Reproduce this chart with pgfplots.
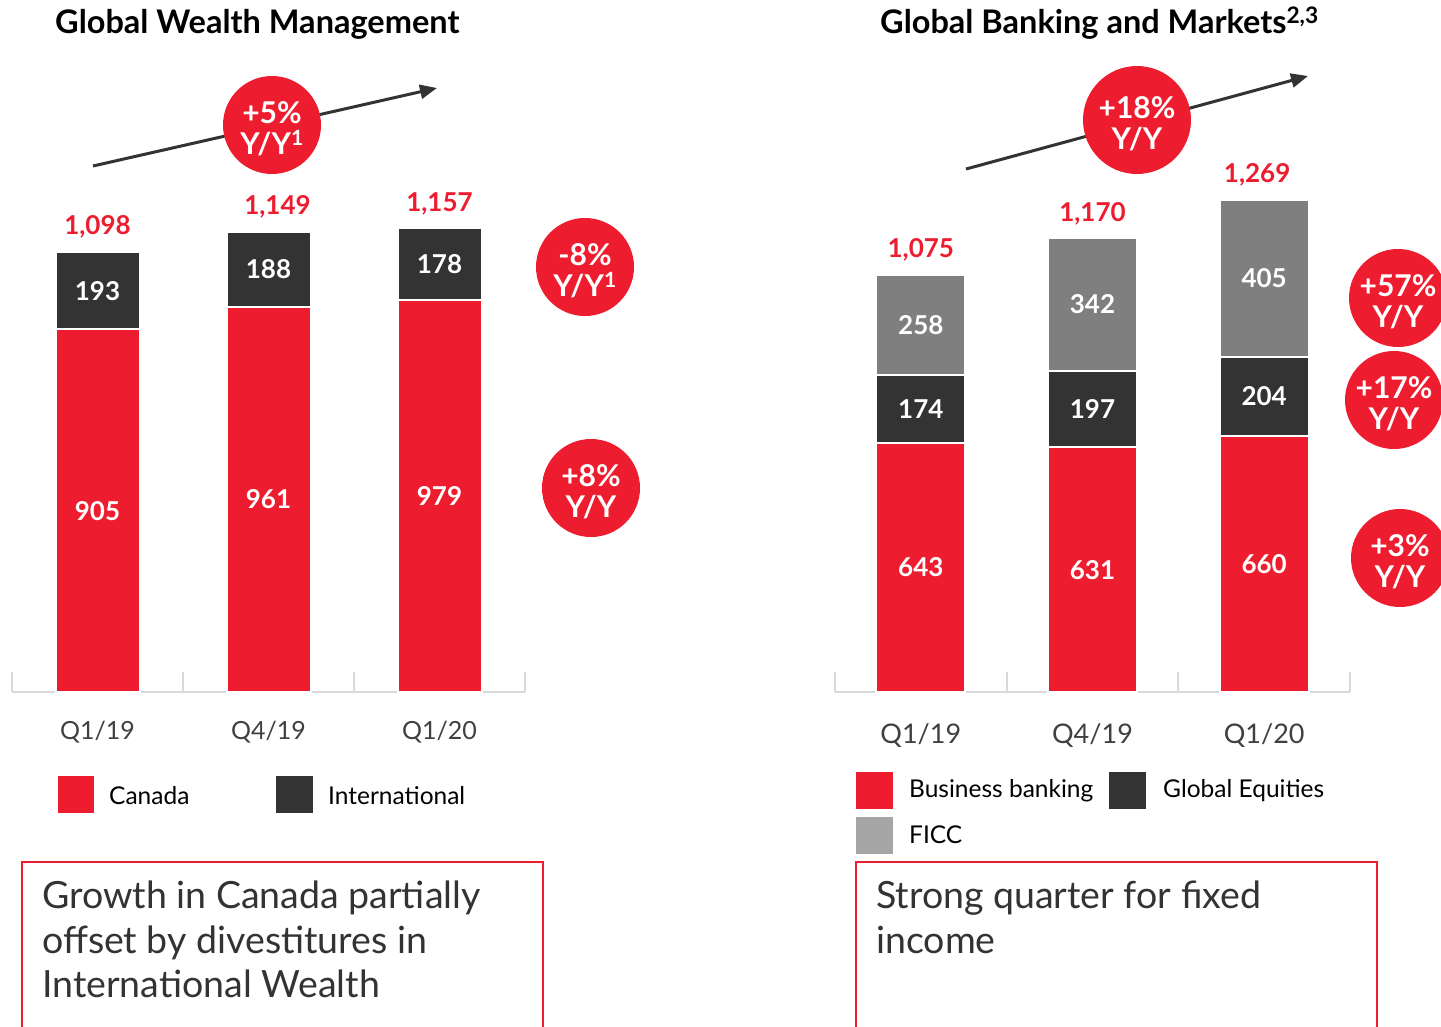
\documentclass[border=0pt]{standalone}
\usepackage{fontspec}
\setmainfont{Lato}
\usepackage{pgfplots}
\usepackage{pgfplotstable}
\pgfplotsset{compat=1.18}
\usetikzlibrary{arrows.meta}

\definecolor{sred}{HTML}{ED1C2E}
\definecolor{sdark}{HTML}{333333}
\definecolor{sgray}{HTML}{7F7F7F}
\definecolor{slgray}{HTML}{A6A6A6}
\definecolor{axgray}{HTML}{D9D9D9}
\definecolor{txtgray}{HTML}{404040}

\pgfplotstableread{
x canada intl
0 905 193
1 961 188
2 979 178
}\gwm

\pgfplotstableread{
x bb eq ficc
0 643 174 258
1 631 197 342
2 660 204 405
}\gbm

\newcommand{\fs}[1]{\fontsize{#1}{#1}\selectfont}

\pgfplotsset{
  mybars/.style={
    ybar stacked, scale only axis, ymin=0, xmin=-0.5, xmax=2.5,
    hide y axis, axis x line*=bottom,
    x axis line style={axgray, line width=2pt},
    xtick={0,1,2}, xticklabels={Q1/19,Q4/19,Q1/20},
    major tick length=0pt,
    xticklabel style={anchor=base, text=txtgray},
    extra x ticks={-0.5,0.5,1.5,2.5}, extra x tick labels={},
    extra x tick style={major tick length=20pt, tick style={axgray, line width=2pt}},
    clip=false,
  },
  lab/.style={scale only axis, hide axis, ymin=0, xmin=-0.5, xmax=2.5, clip=false},
  seg/.style={draw=white, line width=2pt},
}
\tikzset{inlab/.style={text=white, font=\bfseries\fs{26}},
  totl/.style={anchor=base, yshift=17pt, inner sep=0pt, text=sred, font=\bfseries\fs{26}}}

\newcommand{\bub}[4]{%
  \fill[sred] (#1pt,-#2pt) circle (#3pt);
  \node[text=white, align=center, inner sep=0pt, font=\bfseries\fs{30}] at (#1pt,-#2pt-4pt) {#4};}

\begin{document}
\begin{tikzpicture}
\useasboundingbox (0pt,0pt) rectangle (1441pt,-1026pt);

% titles
\node[anchor=base west, inner sep=0pt, font=\bfseries\fs{32.5}] at (55pt,-33pt) {Global Wealth Management};
\node[anchor=base west, inner sep=0pt, font=\bfseries\fs{32.5}] at (880pt,-33pt) {Global Banking and Markets\textsuperscript{2,3}};

% arrows
\draw[sdark, line width=3pt, -{Triangle[length=17pt,width=14pt]}] (93pt,-166pt) -- (437pt,-88pt);
\draw[sdark, line width=3pt, -{Triangle[length=17pt,width=14pt]}] (966pt,-169pt) -- (1308pt,-76pt);

% left chart
\begin{axis}[mybars, at={(12pt,-692pt)}, anchor=south west,
  width=513pt, height=521pt, ymax=1300, bar width=84pt,
  xticklabel style={yshift=-47pt, font=\fs{25}}]
\addplot[fill=sred, seg] table[x=x, y=canada] {\gwm};
\addplot[fill=sdark, seg] table[x=x, y=intl] {\gwm};
\end{axis}
\begin{axis}[lab, at={(12pt,-692pt)}, anchor=south west,
  width=513pt, height=521pt, ymax=1300]
\node[inlab] at (axis cs:0,452.5) {905};
\node[inlab] at (axis cs:1,480.5) {961};
\node[inlab] at (axis cs:2,489.5) {979};
\node[inlab] at (axis cs:0,1001.5) {193};
\node[inlab] at (axis cs:1,1055) {188};
\node[inlab] at (axis cs:2,1068) {178};
\node[totl] at (axis cs:0,1098) {1,098};
\node[totl, xshift=9pt] at (axis cs:1,1149) {1,149};
\node[totl] at (axis cs:2,1157) {1,157};
\end{axis}

% right chart
\begin{axis}[mybars, at={(835pt,-692pt)}, anchor=south west,
  width=515pt, height=521pt, ymax=1343, bar width=89pt,
  xticklabel style={yshift=-51pt, font=\fs{27}}]
\addplot[fill=sred, seg] table[x=x, y=bb] {\gbm};
\addplot[fill=sdark, seg] table[x=x, y=eq] {\gbm};
\addplot[fill=sgray, seg] table[x=x, y=ficc] {\gbm};
\end{axis}
\begin{axis}[lab, at={(835pt,-692pt)}, anchor=south west,
  width=515pt, height=521pt, ymax=1343]
\node[inlab] at (axis cs:0,321.5) {643};
\node[inlab] at (axis cs:1,315.5) {631};
\node[inlab] at (axis cs:2,330) {660};
\node[inlab] at (axis cs:0,730) {174};
\node[inlab] at (axis cs:1,729.5) {197};
\node[inlab] at (axis cs:2,762) {204};
\node[inlab] at (axis cs:0,946) {258};
\node[inlab] at (axis cs:1,999) {342};
\node[inlab] at (axis cs:2,1066.5) {405};
\node[totl] at (axis cs:0,1075) {1,075};
\node[totl] at (axis cs:1,1170) {1,170};
\node[totl, xshift=-7pt] at (axis cs:2,1269) {1,269};
\end{axis}

% circles
\bub{272}{125}{49}{+5\%\\[1pt]Y/Y\textsuperscript{1}}
\bub{585}{267}{49}{-8\%\\[1pt]Y/Y\textsuperscript{1}}
\bub{591}{488}{49}{+8\%\\[1pt]Y/Y}
\bub{1137}{120}{54}{+18\%\\[1pt]Y/Y}
\bub{1398}{298}{49}{+57\%\\[1pt]Y/Y}
\bub{1394}{400}{49}{+17\%\\[1pt]Y/Y}
\bub{1400}{558}{49}{+3\%\\[1pt]Y/Y}

% legends
\tikzset{legtxt/.style={anchor=base west, inner sep=0pt, font=\fs{24.5}, text=black}}
\fill[sred] (58pt,-776pt) rectangle (94pt,-813pt);
\node[legtxt] at (109pt,-804pt) {Canada};
\fill[sdark] (276pt,-776pt) rectangle (313pt,-813pt);
\node[legtxt] at (328pt,-804pt) {International};

\fill[sred] (856pt,-772pt) rectangle (893pt,-809pt);
\node[legtxt] at (909pt,-797pt) {Business banking};
\fill[sdark] (1109pt,-772pt) rectangle (1146pt,-809pt);
\node[legtxt] at (1163pt,-797pt) {Global Equities};
\fill[slgray] (856pt,-817pt) rectangle (893pt,-854pt);
\node[legtxt] at (909pt,-843pt) {FICC};

% text boxes
\draw[sred, line width=2pt] (22pt,-1040pt) -- (22pt,-862pt) -- (543pt,-862pt) -- (543pt,-1040pt);
\draw[sred, line width=2pt] (856pt,-1040pt) -- (856pt,-862pt) -- (1377pt,-862pt) -- (1377pt,-1040pt);
\tikzset{boxtxt/.style={anchor=base west, inner sep=0pt, font=\fs{37.5}, text=sdark}}
\node[boxtxt] at (42pt,-908pt) {Growth in Canada partially};
\node[boxtxt] at (42pt,-953pt) {offset by divestitures in};
\node[boxtxt] at (42pt,-997pt) {International Wealth};
\node[boxtxt] at (876pt,-908pt) {Strong quarter for fixed};
\node[boxtxt] at (876pt,-953pt) {income};
\end{tikzpicture}
\end{document}
